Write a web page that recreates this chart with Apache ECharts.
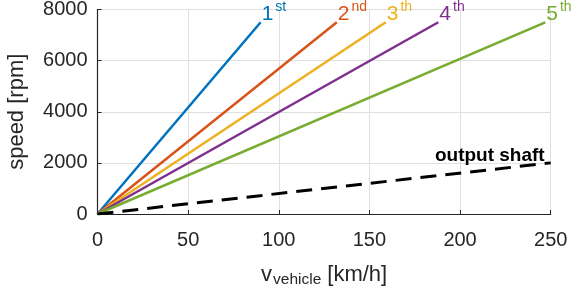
<!DOCTYPE html>
<html><head><meta charset="utf-8">
<script src="https://cdn.jsdelivr.net/npm/echarts@6/dist/echarts.min.js"></script>
<style>html,body{margin:0;padding:0;background:#fff}#c{width:584px;height:292px}</style>
</head><body><div id="c"></div>
<script>
// gear labels
const gearNums = ['1', '2', '3', '4', '5'];
const gearSup = ['st', 'nd', 'th', 'th', 'th'];
const gearColors = ['#0072BD', '#D95319', '#EDB120', '#7E2F8E', '#77AC30'];
// vehicle speed [km/h] at which each gear reaches max engine speed
const gearVEnd = [90, 132, 159, 188, 247];
const gearSpeedEnd = [7500, 7500, 7500, 7500, 7500];
// output shaft
const shaftV = [0, 250];
const shaftSpeed = [0, 2000];
// axes
const xTicks = [0, 50, 100, 150, 200, 250];
const yTicks = [0, 2000, 4000, 6000, 8000];

const FONT = "'Liberation Sans', Arial, Helvetica, sans-serif";
const axisColor = '#262626';

const series = gearNums.map((g, i) => ({
  type: 'line',
  data: [[0, 0], [gearVEnd[i], gearSpeedEnd[i]]],
  showSymbol: false,
  lineStyle: { color: gearColors[i], width: 2.5 },
  silent: true,
  endLabel: {
    show: true,
    distance: 1,
    offset: [0, -10],
    formatter: '{n|' + g + '}{s|' + gearSup[i] + '}',
    rich: {
      n: { fontSize: 21, fontFamily: FONT, color: gearColors[i], verticalAlign: 'bottom', lineHeight: 24 },
      s: { fontSize: 14, fontFamily: FONT, color: gearColors[i], verticalAlign: 'top', lineHeight: 14, padding: [0, 0, 0, 2] }
    }
  }
}));
series.push({
  type: 'line',
  data: shaftV.map((v, i) => [v, shaftSpeed[i]]),
  showSymbol: false,
  silent: true,
  lineStyle: { color: '#000', width: 3, type: [16, 9] },
  endLabel: {
    show: true,
    formatter: 'output shaft',
    fontFamily: FONT,
    fontSize: 19,
    fontWeight: 'bold',
    color: '#000',
    align: 'right',
    distance: 0,
    offset: [-6, -7]
  }
});

const chart = echarts.init(document.getElementById('c'), null, { renderer: 'canvas' });
chart.setOption({
  animation: false,
  grid: { left: 97.5, right: 33.3, top: 9.5, bottom: 78, containLabel: false, outerBoundsMode: 'none' },
  xAxis: {
    type: 'value', min: xTicks[0], max: xTicks[xTicks.length - 1], interval: xTicks[1] - xTicks[0],
    axisLine: { show: true, lineStyle: { color: axisColor, width: 1.2 } },
    axisTick: { show: true, inside: true, length: 4, lineStyle: { color: axisColor } },
    axisLabel: { color: axisColor, fontSize: 20, fontFamily: FONT, margin: 16, formatter: v => String(v) },
    splitLine: { show: true, lineStyle: { color: '#dfdfdf', width: 1 } },
    name: '{v|v}{sub|vehicle}{u|[km/h]}',
    nameLocation: 'middle',
    nameGap: 50,
    nameTextStyle: {
      rich: {
        v: { fontSize: 22, fontFamily: FONT, color: axisColor, verticalAlign: 'top', lineHeight: 24 },
        sub: { fontSize: 15.5, fontFamily: FONT, color: axisColor, verticalAlign: 'bottom', lineHeight: 16, padding: [13, 6, 0, 1] },
        u: { fontSize: 22, fontFamily: FONT, color: axisColor, verticalAlign: 'top', lineHeight: 24 }
      }
    }
  },
  yAxis: {
    type: 'value', min: yTicks[0], max: yTicks[yTicks.length - 1], interval: yTicks[1] - yTicks[0],
    axisLine: { show: true, lineStyle: { color: axisColor, width: 1.2 } },
    axisTick: { show: true, inside: true, length: 4, lineStyle: { color: axisColor } },
    axisLabel: { color: axisColor, fontSize: 20, fontFamily: FONT, margin: 10, formatter: v => String(v) },
    splitLine: { show: true, lineStyle: { color: '#dfdfdf', width: 1 } },
    name: 'speed [rpm]',
    nameLocation: 'middle',
    nameGap: 70,
    nameTextStyle: { fontSize: 22, fontFamily: FONT, color: axisColor }
  },
  series: series
});
</script></body></html>
